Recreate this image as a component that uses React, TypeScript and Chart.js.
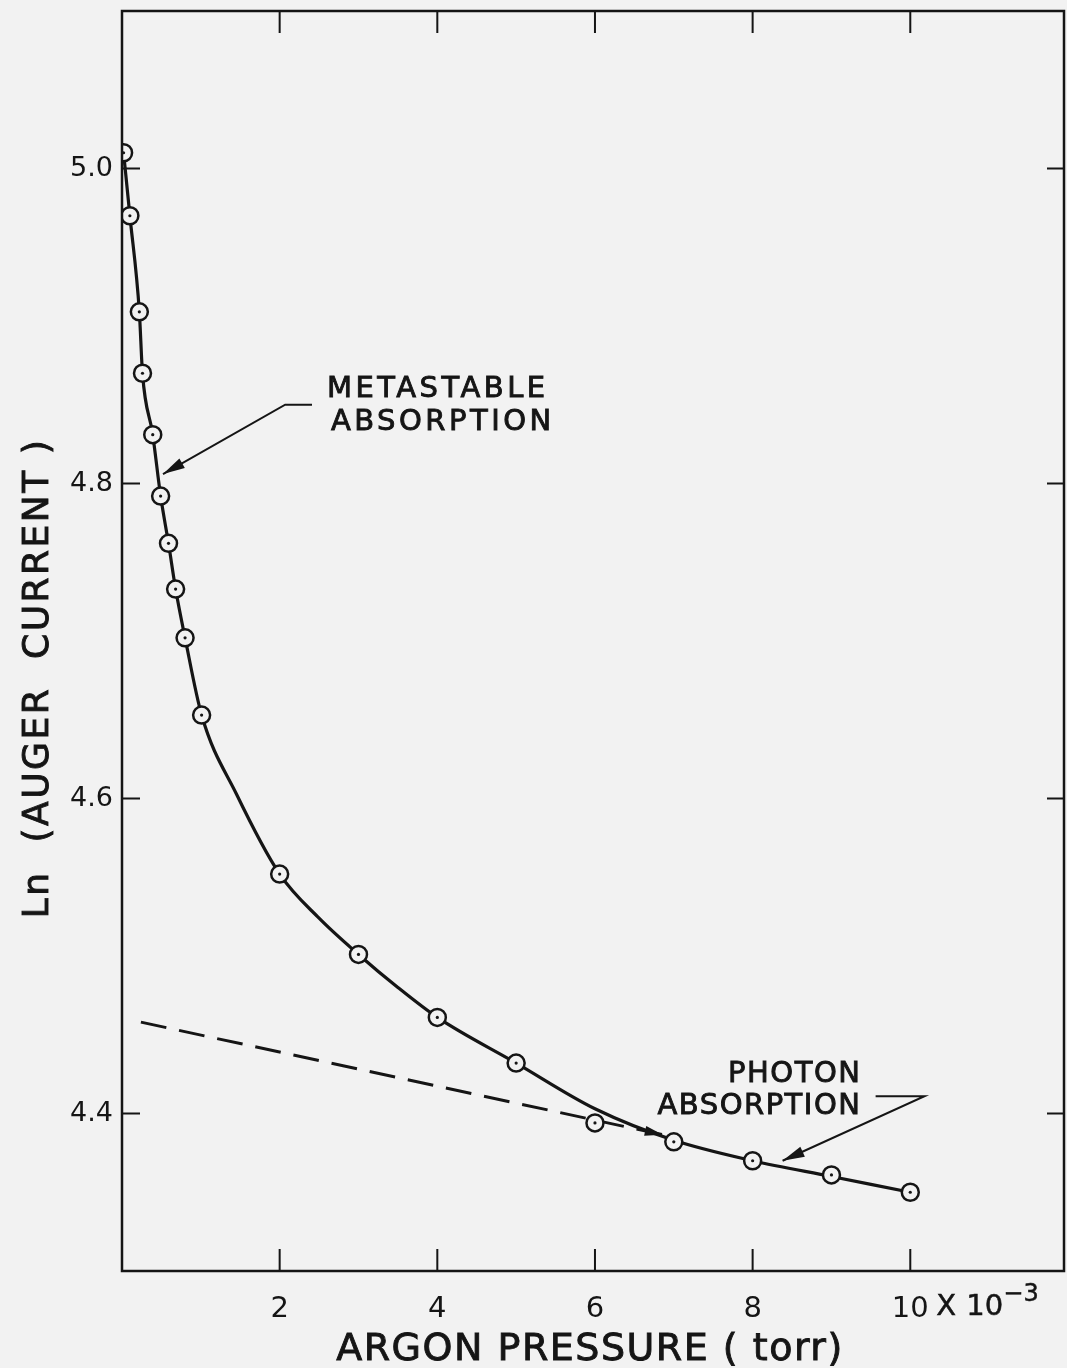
import React, { useEffect, useRef } from 'react';
import { Chart, registerables } from 'chart.js';

Chart.register(...registerables);

const pressure = [0.02, 0.1, 0.22, 0.26, 0.39, 0.49, 0.59, 0.68, 0.8, 1.01, 2, 3, 4, 5, 6, 7, 8, 9, 10];
const lnCurrent = [5.01, 4.97, 4.909, 4.87, 4.831, 4.792, 4.762, 4.733, 4.702, 4.653, 4.552, 4.501, 4.461, 4.432, 4.394, 4.382, 4.37, 4.361, 4.35];
// ---- hand-drawn smooth curve ----
const curvePressure = [0.02, 0.1, 0.22, 0.26, 0.39, 0.49, 0.59, 0.68, 0.8, 1.01, 1.45, 2, 2.5, 3, 3.5, 4, 5, 6, 7, 8, 9, 10];
const curveLn = [5.01, 4.97, 4.909, 4.87, 4.831, 4.792, 4.762, 4.733, 4.702, 4.653, 4.603, 4.552, 4.524, 4.501, 4.48, 4.461, 4.432, 4.403, 4.383, 4.37, 4.36, 4.35];
// ---- dashed extrapolation ----
const dashPressure = [0.24, 6.86];
const dashLn = [4.458, 4.3865];

const xTickValues = [2, 4, 6, 8, 10];
const xTickLabels = ['2', '4', '6', '8', '10'];
const yTickValues = [4.4, 4.6, 4.8, 5.0];
const yTickLabels = ['4.4', '4.6', '4.8', '5.0'];

const xTitle = 'ARGON PRESSURE ( torr)';
const yTitle = 'Ln  (AUGER  CURRENT )';
const metaLines = ['METASTABLE', 'ABSORPTION'];
const photonLines = ['PHOTON', 'ABSORPTION'];
// arrow polylines in data coordinates (last point = arrow tip)
const metaArrowX = [2.41, 2.07, 0.52];
const metaArrowY = [4.85, 4.85, 4.806];
const photonArrowX = [9.56, 10.18, 8.38];
const photonArrowY = [4.411, 4.411, 4.37];

const BG = '#f2f2f2';
const INK = '#151515';
const FONT = '"DejaVu Sans", sans-serif';

function arrowHead(ctx: CanvasRenderingContext2D, fx: number, fy: number, tx: number, ty: number, len: number, half: number) {
  const a = Math.atan2(ty - fy, tx - fx);
  ctx.beginPath();
  ctx.moveTo(tx, ty);
  ctx.lineTo(tx - len * Math.cos(a) + half * Math.sin(a), ty - len * Math.sin(a) - half * Math.cos(a));
  ctx.lineTo(tx - len * Math.cos(a) - half * Math.sin(a), ty - len * Math.sin(a) + half * Math.cos(a));
  ctx.closePath();
  ctx.fill();
}

function boldText(ctx: CanvasRenderingContext2D, s: string, x: number, y: number) {
  ctx.fillText(s, x, y);
  ctx.strokeText(s, x, y);
}

const framePlugin = {
  id: 'frame',
  beforeDraw(chart: any) {
    const ctx = chart.ctx;
    ctx.save();
    ctx.fillStyle = BG;
    ctx.fillRect(0, 0, chart.width, chart.height);
    ctx.restore();
  },
  afterDatasetsDraw(chart: any) {
    const ctx = chart.ctx;
    const meta = chart.getDatasetMeta(0);
    ctx.save();
    ctx.fillStyle = INK;
    meta.data.forEach((p: any) => {
      ctx.beginPath();
      ctx.arc(p.x, p.y, 1.6, 0, Math.PI * 2);
      ctx.fill();
    });
    const ds = chart.getDatasetMeta(2).data;
    if (ds.length >= 2) {
      const a = ds[ds.length - 2];
      const b = ds[ds.length - 1];
      arrowHead(ctx, a.x, a.y, b.x, b.y, 18, 5);
    }
    ctx.restore();
  },
  afterDraw(chart: any) {
    const ctx: CanvasRenderingContext2D = chart.ctx;
    const { left, right, top, bottom } = chart.chartArea;
    const xs = chart.scales.x;
    const ys = chart.scales.y;
    ctx.save();
    ctx.strokeStyle = INK;
    ctx.fillStyle = INK;
    ctx.lineWidth = 2.5;
    ctx.strokeRect(left, top, right - left, bottom - top);
    ctx.lineWidth = 2;
    xTickValues.forEach((v) => {
      const px = xs.getPixelForValue(v);
      ctx.beginPath();
      ctx.moveTo(px, bottom);
      ctx.lineTo(px, bottom - 22);
      ctx.moveTo(px, top);
      ctx.lineTo(px, top + 22);
      ctx.stroke();
    });
    yTickValues.forEach((v) => {
      const py = ys.getPixelForValue(v);
      ctx.beginPath();
      ctx.moveTo(left, py);
      ctx.lineTo(left + 18, py);
      ctx.moveTo(right, py);
      ctx.lineTo(right - 17, py);
      ctx.stroke();
    });

    const drawArrow = (ax: number[], ay: number[]) => {
      const pts = ax.map((x, i) => [xs.getPixelForValue(x), ys.getPixelForValue(ay[i])]);
      ctx.lineWidth = 2;
      ctx.beginPath();
      ctx.moveTo(pts[0][0], pts[0][1]);
      for (let i = 1; i < pts.length; i++) ctx.lineTo(pts[i][0], pts[i][1]);
      ctx.stroke();
      const n = pts.length;
      arrowHead(ctx, pts[n - 2][0], pts[n - 2][1], pts[n - 1][0], pts[n - 1][1], 22, 5.5);
    };
    drawArrow(metaArrowX, metaArrowY);
    drawArrow(photonArrowX, photonArrowY);

    ctx.lineWidth = 0.9;
    ctx.font = `29px ${FONT}`;
    (ctx as any).letterSpacing = '3.5px';
    ctx.textBaseline = 'alphabetic';
    ctx.textAlign = 'left';
    boldText(ctx, metaLines[0], xs.getPixelForValue(2.6), ys.getPixelForValue(4.855));
    boldText(ctx, metaLines[1], xs.getPixelForValue(2.65), ys.getPixelForValue(4.834));
    (ctx as any).letterSpacing = '1.5px';
    ctx.textAlign = 'right';
    boldText(ctx, photonLines[0], xs.getPixelForValue(9.38), ys.getPixelForValue(4.42));
    boldText(ctx, photonLines[1], xs.getPixelForValue(9.38), ys.getPixelForValue(4.3997));

    const p10 = xs.getPixelForValue(10);
    const tickY = bottom + 44;
    (ctx as any).letterSpacing = '0px';
    ctx.textAlign = 'left';
    ctx.lineWidth = 0.5;
    ctx.font = `29px ${FONT}`;
    boldText(ctx, 'X', p10 + 26, tickY);
    boldText(ctx, '10', p10 + 56, tickY);
    ctx.font = `24px ${FONT}`;
    boldText(ctx, '\u22123', p10 + 93, tickY - 14);

    ctx.lineWidth = 0.9;
    ctx.font = `38px ${FONT}`;
    (ctx as any).letterSpacing = '1.5px';
    ctx.textAlign = 'center';
    ctx.textBaseline = 'alphabetic';
    boldText(ctx, xTitle, 590, 1360);
    ctx.save();
    ctx.translate(48, 678);
    ctx.rotate(-Math.PI / 2);
    ctx.font = `36px ${FONT}`;
    (ctx as any).letterSpacing = '2.5px';
    boldText(ctx, yTitle, 0, 0);
    ctx.restore();
    ctx.restore();
  },
};

export default function App() {
  const ref = useRef<HTMLCanvasElement>(null);
  useEffect(() => {
    if (!ref.current) return;
    const chart = new Chart(ref.current, {
      type: 'line',
      data: {
        datasets: [
          {
            data: pressure.map((x, i) => ({ x, y: lnCurrent[i] })),
            showLine: false,
            pointRadius: 8.5,
            pointBorderWidth: 2.5,
            pointBackgroundColor: BG,
            pointBorderColor: INK,
          },
          {
            data: curvePressure.map((x, i) => ({ x, y: curveLn[i] })),
            borderColor: INK,
            borderWidth: 3.2,
            cubicInterpolationMode: 'monotone',
            pointRadius: 0,
            fill: false,
          },
          {
            data: dashPressure.map((x, i) => ({ x, y: dashLn[i] })),
            borderColor: INK,
            borderWidth: 3,
            borderDash: [26, 13],
            pointRadius: 0,
            fill: false,
          },
        ],
      },
      options: {
        animation: false,
        responsive: false,
        devicePixelRatio: 1,
        layout: { autoPadding: false, padding: { top: 11, right: 3, left: 0, bottom: 0 } },
        plugins: { legend: { display: false }, tooltip: { enabled: false }, title: { display: false } },
        scales: {
          x: {
            type: 'linear',
            min: 0,
            max: 11.95,
            grid: { display: false, drawTicks: false },
            border: { display: false },
            afterBuildTicks: (s: any) => {
              s.ticks = xTickValues.map((v) => ({ value: v }));
            },
            afterFit: (s: any) => {
              s.height = 97;
              s.paddingLeft = 0;
              s.paddingRight = 0;
              s.paddingTop = 0;
              s.paddingBottom = 0;
            },
            ticks: {
              autoSkip: false,
              maxRotation: 0,
              padding: 21,
              color: INK,
              font: { family: FONT, size: 29 },
              callback: (v: any) => {
                const i = xTickValues.indexOf(Number(v));
                return i >= 0 ? xTickLabels[i] : '';
              },
            },
          },
          y: {
            type: 'linear',
            min: 4.3,
            max: 5.1,
            grid: { display: false, drawTicks: false },
            border: { display: false },
            afterBuildTicks: (s: any) => {
              s.ticks = yTickValues.map((v) => ({ value: v }));
            },
            afterFit: (s: any) => {
              s.width = 122;
              s.paddingLeft = 0;
              s.paddingRight = 0;
              s.paddingTop = 0;
              s.paddingBottom = 0;
            },
            ticks: {
              autoSkip: false,
              padding: 9,
              color: INK,
              font: { family: FONT, size: 27 },
              callback: (v: any) => {
                const i = yTickValues.findIndex((t) => Math.abs(t - Number(v)) < 1e-6);
                return i >= 0 ? yTickLabels[i] : '';
              },
            },
          },
        },
      },
      plugins: [framePlugin],
    } as any);
    return () => chart.destroy();
  }, []);
  return (
    <div style={{ position: 'absolute', left: 0, top: 0, width: 1067, height: 1368, background: BG }}>
      <canvas ref={ref} width={1067} height={1368} style={{ display: 'block', width: 1067, height: 1368 }} />
    </div>
  );
}
